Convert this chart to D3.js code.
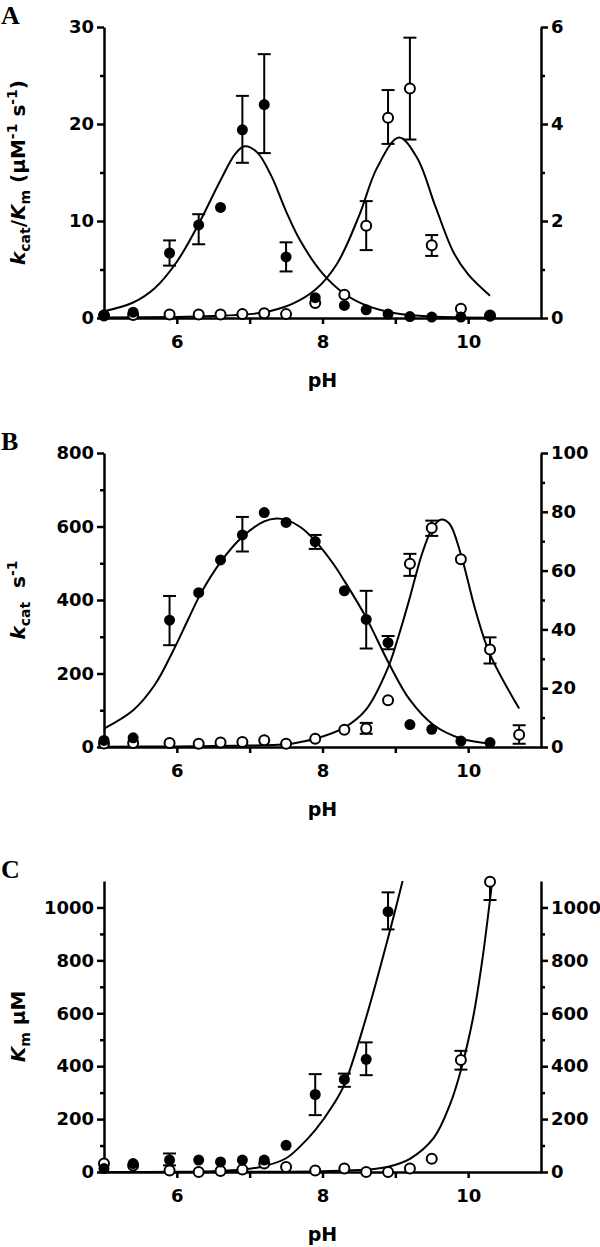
<!DOCTYPE html>
<html>
<head>
<meta charset="utf-8">
<script src="https://cdn.jsdelivr.net/npm/d3@7"></script>
<style>
  body { margin: 0; background: #fff; }
  text { font-family: "DejaVu Sans", sans-serif; font-weight: bold; fill: #000; }
  .tick text { font-size: 18px; }
  .domain, .tick line { stroke: #000; stroke-width: 2.5px; }
</style>
</head>
<body>
<svg id="chart" width="600" height="1247"></svg>
<script>
// pH axis, shared by the three panels
var phDomain = [5, 11]
var phTicks = [6, 7, 8, 9, 10]
var phLabels = [6, 8, 10]

// ---- A : kcat/Km ----
var aPh = [5.0, 5.4, 5.9, 6.3, 6.6, 6.9, 7.2, 7.5, 7.9, 8.3, 8.6, 8.9, 9.2, 9.5, 9.9, 10.3]
var aFilled   = [0.3, 0.6, 6.7, 9.6, 11.4, 19.4, 22.0, 6.3, 2.1, 1.3, 0.85, 0.4, 0.15, 0.1, 0.1, 0.2]
var aFilledLo = [null, null, 5.4, 7.6, null, 16.0, 17.0, 4.8, null, null, null, null, null, null, null, null]
var aFilledHi = [null, null, 8.0, 10.7, null, 22.9, 27.2, 7.8, null, null, null, null, null, null, null, null]
var aOpen   = [0.05, 0.06, 0.07, 0.07, 0.07, 0.08, 0.1, 0.08, 0.31, 0.48, 1.9, 4.13, 4.73, 1.5, 0.19, 0.05]
var aOpenLo = [null, null, null, null, null, null, null, null, null, null, 1.4, 3.59, 3.68, 1.28, null, null]
var aOpenHi = [null, null, null, null, null, null, null, null, null, null, 2.41, 4.7, 5.78, 1.71, null, null]
// fitted curves
var aFitFilledPh = [5.0, 5.4, 5.7, 6.0, 6.3, 6.6, 6.8, 6.93, 7.1, 7.3, 7.5, 7.7, 8.0, 8.3, 8.6, 9.0, 9.5, 10.3]
var aFitFilled   = [0.7, 1.6, 3.1, 5.8, 9.7, 14.2, 16.9, 17.7, 17.1, 14.6, 11.0, 7.9, 4.6, 2.5, 1.3, 0.5, 0.15, 0.03]
var aFitOpenPh = [5.0, 6.0, 6.5, 7.0, 7.3, 7.6, 7.9, 8.2, 8.5, 8.75, 9.05, 9.3, 9.55, 9.8, 10.0, 10.3]
var aFitOpen   = [0.01, 0.02, 0.04, 0.08, 0.15, 0.3, 0.58, 1.12, 2.1, 3.1, 3.72, 3.3, 2.3, 1.35, 0.9, 0.46]

// ---- B : kcat ----
var bFilledPh = [5.0, 5.4, 5.9, 6.3, 6.6, 6.9, 7.2, 7.5, 7.9, 8.3, 8.6, 8.9, 9.2, 9.5, 9.9, 10.3]
var bFilled   = [18, 25, 345, 420, 509, 577, 638, 611, 559, 425, 347, 284, 61, 48, 16, 12]
var bFilledLo = [null, null, 277, null, null, 532, null, null, 539, null, 268, 266, null, null, null, null]
var bFilledHi = [null, null, 411, null, null, 626, null, null, 577, null, 425, 302, null, null, null, null]
var bOpenPh = [5.0, 5.4, 5.9, 6.3, 6.6, 6.9, 7.2, 7.5, 7.9, 8.3, 8.6, 8.9, 9.2, 9.5, 9.9, 10.3, 10.7]
var bOpen   = [1.2, 1.4, 1.4, 1.1, 1.5, 1.7, 2.3, 1.1, 2.8, 5.9, 6.3, 15.9, 62.3, 74.5, 63.9, 33.2, 4.2]
var bOpenLo = [null, null, null, null, null, null, null, null, null, null, 4.5, null, 58.2, 71.8, null, 28.4, 1.1]
var bOpenHi = [null, null, null, null, null, null, null, null, null, null, 8.2, null, 65.7, 77.0, null, 37.3, 7.4]
var bFitFilledPh = [5.0, 5.4, 5.7, 5.95, 6.15, 6.33, 6.6, 6.9, 7.2, 7.37, 7.5, 7.7, 7.9, 8.15, 8.3, 8.6, 8.9, 9.2, 9.53, 9.9, 10.3]
var bFitFilled   = [50, 100, 170, 262, 345, 418, 503, 572, 614, 622, 618, 598, 561, 498, 452, 352, 232, 128, 59, 23, 9]
var bFitOpenPh = [5.0, 6.0, 6.8, 7.5, 7.7, 7.9, 8.3, 8.6, 8.9, 9.05, 9.19, 9.37, 9.51, 9.62, 9.74, 9.9, 10.1, 10.3, 10.7]
var bFitOpen   = [0.1, 0.2, 0.4, 0.9, 1.7, 2.8, 6.6, 12.8, 27.0, 38.2, 50, 66, 74.5, 77.3, 76.0, 65.5, 46.5, 31.5, 13.1]

// ---- C : Km ----
var cFilledPh = [5.0, 5.4, 5.9, 6.3, 6.6, 6.9, 7.2, 7.5, 7.9, 8.3, 8.6, 8.9]
var cFilled   = [13, 32, 45, 45, 38, 45, 45, 101, 293, 350, 426, 984]
var cFilledLo = [null, null, 25, null, null, null, null, null, 215, 322, 366, 917]
var cFilledHi = [null, null, 70, null, null, null, null, null, 370, 372, 490, 1057]
var cOpenPh = [5.0, 5.4, 5.9, 6.3, 6.6, 6.9, 7.2, 7.5, 7.9, 8.3, 8.6, 8.9, 9.2, 9.5, 9.9, 10.3]
var cOpen   = [32, 25, 6, 0, 4, 9, 32, 19, 6, 13, 0, 0, 13, 50, 423, 1097]
var cOpenLo = [null, null, null, null, null, null, null, null, null, null, null, null, null, null, 387, 1028]
var cOpenHi = [null, null, null, null, null, null, null, null, null, null, null, null, null, null, 458, 1167]
var cFitFilledPh = [5.0, 6.0, 6.5, 6.9, 7.2, 7.5, 7.69, 7.9, 8.15, 8.3, 8.6, 8.9, 9.1]
var cFitFilled   = [0, 1, 3, 9, 22, 52, 96, 158, 255, 330, 585, 885, 1100]
var cFitOpenPh = [5.0, 7.0, 8.0, 8.6, 8.9, 9.2, 9.53, 9.75, 9.9, 10.07, 10.2, 10.3, 10.33]
var cFitOpen   = [0, 0.5, 3, 9, 20, 50, 130, 255, 385, 587, 813, 1030, 1100]

var svg = d3.select("#chart")
var left = 104, right = 541

function series(ph, v, lo, hi) {
  return ph.map(function(p, i) { return {ph: p, v: v[i], lo: lo[i], hi: hi[i]} })
}
function fit(ph, v) {
  return ph.map(function(p, i) { return {ph: p, v: v[i]} })
}

function drawPanel(p) {
  var x = d3.scaleLinear().domain(phDomain).range([left, right])
  var yL = d3.scaleLinear().domain([0, p.leftMax]).range([p.bottom, p.top])
  var yR = d3.scaleLinear().domain([0, p.rightMax]).range([p.bottom, p.top])
  var g = svg.append("g")

  // panel letter
  g.append("text")
    .attr("x", 1).attr("y", p.top - 3)
    .style("font-family", "'Liberation Serif', serif")
    .style("font-size", "26px")
    .text(p.letter)

  // fitted curves
  var lineL = d3.line().curve(d3.curveCatmullRom.alpha(0.5))
    .x(function(d) { return x(d.ph) }).y(function(d) { return yL(d.v) })
  var lineR = d3.line().curve(d3.curveCatmullRom.alpha(0.5))
    .x(function(d) { return x(d.ph) }).y(function(d) { return yR(d.v) })
  g.append("path").datum(p.fitFilled).attr("d", lineL)
    .attr("fill", "none").attr("stroke", "#000").attr("stroke-width", 2)
  g.append("path").datum(p.fitOpen).attr("d", lineR)
    .attr("fill", "none").attr("stroke", "#000").attr("stroke-width", 2)

  // axes
  var fmt = d3.format("d")
  g.append("g").attr("transform", "translate(" + left + ",0)")
    .call(d3.axisLeft(yL).tickValues(p.leftTicks).tickSize(7).tickPadding(3).tickSizeOuter(0).tickFormat(fmt))
  g.append("g").attr("transform", "translate(" + left + ",0)")
    .call(d3.axisLeft(yL).tickValues(p.leftMinor).tickSize(4).tickFormat(""))
    .call(function(a) { a.select(".domain").remove() })
  g.append("g").attr("transform", "translate(" + right + ",0)")
    .call(d3.axisRight(yR).tickValues(p.rightTicks).tickSize(7).tickPadding(3).tickSizeOuter(0).tickFormat(fmt))
  g.append("g").attr("transform", "translate(" + right + ",0)")
    .call(d3.axisRight(yR).tickValues(p.rightMinor).tickSize(4).tickFormat(""))
    .call(function(a) { a.select(".domain").remove() })
  g.append("g").attr("transform", "translate(0," + p.bottom + ")")
    .call(d3.axisBottom(x).tickValues(phTicks).tickSize(6).tickPadding(11).tickSizeOuter(0)
      .tickFormat(function(d) { return phLabels.indexOf(d) >= 0 ? d : "" }))

  // axis titles
  g.append("text")
    .attr("x", (left + right) / 2).attr("y", p.bottom + 69)
    .attr("text-anchor", "middle").style("font-size", "19px")
    .text("pH")
  var t = g.append("text")
    .attr("transform", "translate(25," + (p.top + p.bottom) / 2 + ") rotate(-90)")
    .attr("text-anchor", "middle").style("font-size", "20px").style("white-space", "pre")
  var shift = 0
  p.title.forEach(function(part) {
    var target = part[1] == "sub" ? 5 : part[1] == "sup" ? -8 : 0
    var s = t.append("tspan").text(part[0]).attr("dy", target - shift)
    shift = target
    if (part[1] == "i") s.style("font-style", "italic")
    if (part[1] == "sub" || part[1] == "sup") s.style("font-size", "14px")
  })

  // error bars then points
  function errorBars(data, y, max) {
    var e = g.append("g").selectAll("g")
      .data(data.filter(function(d) { return d.lo != null }))
      .enter().append("g")
      .attr("stroke", "#000").attr("stroke-width", 2)
    e.append("line")
      .attr("x1", function(d) { return x(d.ph) }).attr("x2", function(d) { return x(d.ph) })
      .attr("y1", function(d) { return y(d.lo) }).attr("y2", function(d) { return y(Math.min(d.hi, max)) })
    e.append("line")
      .attr("x1", function(d) { return x(d.ph) - 6.5 }).attr("x2", function(d) { return x(d.ph) + 6.5 })
      .attr("y1", function(d) { return y(d.lo) }).attr("y2", function(d) { return y(d.lo) })
    e.filter(function(d) { return d.hi <= max }).append("line")
      .attr("x1", function(d) { return x(d.ph) - 6.5 }).attr("x2", function(d) { return x(d.ph) + 6.5 })
      .attr("y1", function(d) { return y(d.hi) }).attr("y2", function(d) { return y(d.hi) })
  }
  errorBars(p.filled, yL, p.leftMax)
  errorBars(p.open, yR, p.rightMax)

  g.append("g").selectAll("circle")
    .data(p.open).enter().append("circle")
    .attr("cx", function(d) { return x(d.ph) })
    .attr("cy", function(d) { return yR(d.v) })
    .attr("r", 5)
    .attr("fill", "#fff").attr("stroke", "#000").attr("stroke-width", 2)
  g.append("g").selectAll("circle")
    .data(p.filled).enter().append("circle")
    .attr("cx", function(d) { return x(d.ph) })
    .attr("cy", function(d) { return yL(d.v) })
    .attr("r", 5.5)
    .attr("fill", "#000")
}

drawPanel({
  letter: "A", top: 27, bottom: 318,
  leftMax: 30, leftTicks: [0, 10, 20, 30], leftMinor: [5, 15, 25],
  rightMax: 6, rightTicks: [0, 2, 4, 6], rightMinor: [1, 3, 5],
  title: [["k", "i"], ["cat", "sub"], ["/", ""], ["K", "i"], ["m", "sub"], [" (\u03bcM", ""], ["-1", "sup"], [" s", ""], ["-1", "sup"], [")", ""]],
  filled: series(aPh, aFilled, aFilledLo, aFilledHi),
  open: series(aPh, aOpen, aOpenLo, aOpenHi),
  fitFilled: fit(aFitFilledPh, aFitFilled),
  fitOpen: fit(aFitOpenPh, aFitOpen)
})

drawPanel({
  letter: "B", top: 453, bottom: 747,
  leftMax: 800, leftTicks: [0, 200, 400, 600, 800], leftMinor: [100, 300, 500, 700],
  rightMax: 100, rightTicks: [0, 20, 40, 60, 80, 100], rightMinor: [10, 30, 50, 70, 90],
  title: [["k", "i"], ["cat", "sub"], ["  s", ""], ["-1", "sup"]],
  filled: series(bFilledPh, bFilled, bFilledLo, bFilledHi),
  open: series(bOpenPh, bOpen, bOpenLo, bOpenHi),
  fitFilled: fit(bFitFilledPh, bFitFilled),
  fitOpen: fit(bFitOpenPh, bFitOpen)
})

drawPanel({
  letter: "C", top: 881, bottom: 1172,
  leftMax: 1100, leftTicks: [0, 200, 400, 600, 800, 1000], leftMinor: [100, 300, 500, 700, 900],
  rightMax: 1100, rightTicks: [0, 200, 400, 600, 800, 1000], rightMinor: [100, 300, 500, 700, 900],
  title: [["K", "i"], ["m", "sub"], [" \u03bcM", ""]],
  filled: series(cFilledPh, cFilled, cFilledLo, cFilledHi),
  open: series(cOpenPh, cOpen, cOpenLo, cOpenHi),
  fitFilled: fit(cFitFilledPh, cFitFilled),
  fitOpen: fit(cFitOpenPh, cFitOpen)
})
</script>
</body>
</html>
